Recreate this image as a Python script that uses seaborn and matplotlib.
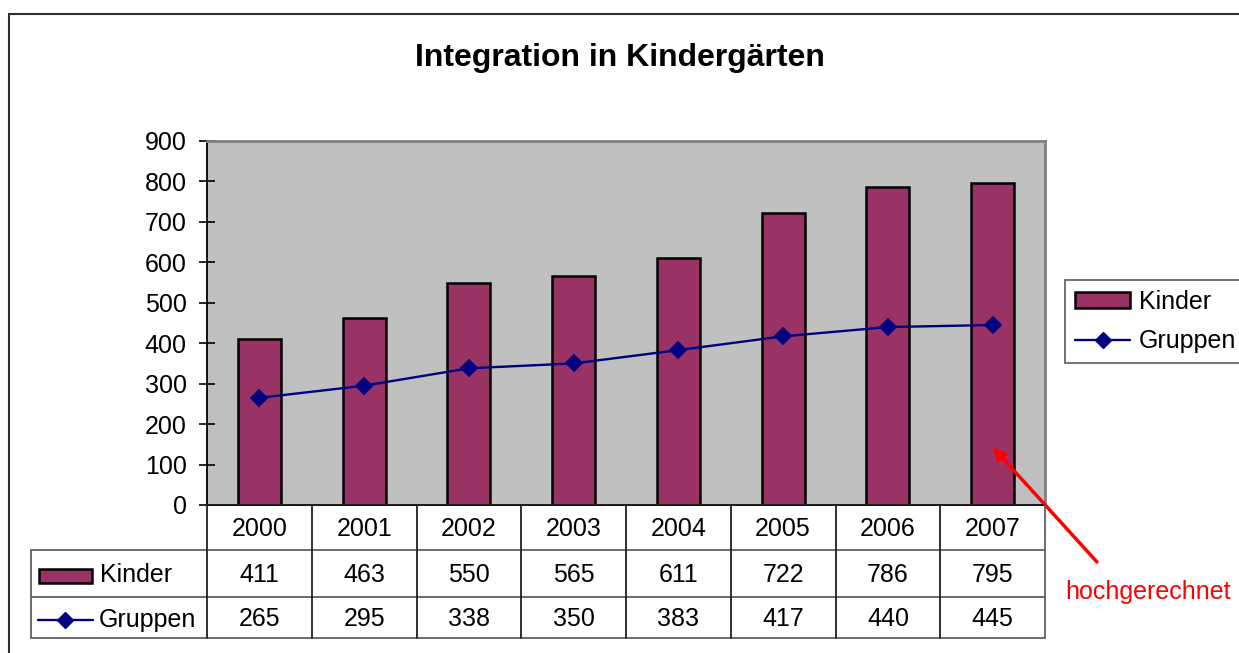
import matplotlib
matplotlib.use("Agg")
import matplotlib.pyplot as plt
from matplotlib.patches import Rectangle
from matplotlib.lines import Line2D
import seaborn as sns

years = ["2000", "2001", "2002", "2003", "2004", "2005", "2006", "2007"]
kinder = [411, 463, 550, 565, 611, 722, 786, 795]
gruppen = [265, 295, 338, 350, 383, 417, 440, 445]
yticks = [0, 100, 200, 300, 400, 500, 600, 700, 800, 900]

sns.set_style("white")
plt.rcParams['font.family'] = ['Liberation Sans', 'DejaVu Sans']
plt.rcParams['text.color'] = 'black'
plt.rcParams['ytick.labelcolor'] = 'black'
plt.rcParams['xtick.labelcolor'] = 'black'

W, H = 1239, 653
BAR = "#993366"
NAVY = "#000080"
FS = 18

fig = plt.figure(figsize=(W / 100, H / 100), dpi=100)

def fx(px):
    return px / W

def fy(py):
    return 1 - py / H

# outer chart frame (runs off the right and bottom edges)
fig.add_artist(Rectangle((fx(9), fy(700)), fx(1400), (700 - 14) / H, transform=fig.transFigure,
                         fill=False, edgecolor="#303030", lw=1.5))

fig.text(0.5, fy(58), "Integration in Kindergärten", ha="center", va="center",
         fontsize=23, fontweight="bold")

# plot area
L, R, T, B = 207, 1045, 141, 505
ax = fig.add_axes([fx(L), fy(B), fx(R - L), (B - T) / H])
ax.set_facecolor("#C0C0C0")
sns.barplot(x=years, y=kinder, color=BAR, saturation=1, edgecolor="black", linewidth=1.8,
            width=0.41, ax=ax, zorder=2)
sns.pointplot(x=years, y=gruppen, color=NAVY, markers="D", linestyles="-", errorbar=None,
              ax=ax, markersize=8, linewidth=1.7, zorder=3)
if ax.get_legend() is not None:
    ax.get_legend().remove()
ax.set_xlim(-0.5, len(years) - 0.5)
ax.set_ylim(0, 900)
ax.set_yticks(yticks)
ax.set_xticks([])
ax.set_xlabel("")
ax.set_ylabel("")
ax.tick_params(axis="y", direction="inout", length=12, width=1.2, pad=8.5, labelsize=FS,
               left=True, color="black", labelcolor="black")
for s in ["top", "right"]:
    ax.spines[s].set_color("#808080")
    ax.spines[s].set_linewidth(2)
for s in ["left", "bottom"]:
    ax.spines[s].set_color("black")
    ax.spines[s].set_linewidth(1.3)

# data table under the plot
catw = (R - L) / len(years)
TL = 31
rows_px = [0, 45, 92, 133]
tab = fig.add_axes([fx(TL), fy(B + rows_px[-1]), fx(R - TL), rows_px[-1] / H])
x0 = -0.5 - (L - TL) / catw
tab.set_xlim(x0, len(years) - 0.5)
tab.set_ylim(rows_px[-1], 0)
tab.axis("off")
hcol = "#606060"
vcol = "#202020"
tab.plot([-0.5, len(years) - 0.5], [rows_px[0]] * 2, color=vcol, lw=1.3, clip_on=False)
for r in rows_px[1:]:
    tab.plot([x0, len(years) - 0.5], [r, r], color=hcol, lw=1.3, clip_on=False)
tab.plot([x0, x0], [rows_px[1], rows_px[3]], color=hcol, lw=1.3, clip_on=False)
for i in range(len(years) + 1):
    tab.plot([i - 0.5, i - 0.5], [rows_px[0], rows_px[3]],
             color=vcol if i < len(years) else hcol, lw=1.3, clip_on=False)

hy = (rows_px[0] + rows_px[1]) / 2 + 2
ky = (rows_px[1] + rows_px[2]) / 2 + 2
gy = (rows_px[2] + rows_px[3]) / 2 + 2
for i, (yr, k, g) in enumerate(zip(years, kinder, gruppen)):
    tab.text(i, hy, yr, ha="center", va="center", fontsize=FS)
    tab.text(i, ky, str(k), ha="center", va="center", fontsize=FS)
    tab.text(i, gy, str(g), ha="center", va="center", fontsize=FS)

def tx(px):
    return x0 + (px - TL) / catw

tab.add_patch(Rectangle((tx(39), ky - 7), tx(92) - tx(39), 14, facecolor=BAR,
                        edgecolor="black", lw=1.8))
tab.text(tx(100), ky, "Kinder", ha="left", va="center", fontsize=FS)
tab.plot([tx(38), tx(93)], [gy, gy], color=NAVY, lw=1.7)
tab.plot([tx(65)], [gy], marker="D", color=NAVY, markersize=8)
tab.text(tx(99), gy, "Gruppen", ha="left", va="center", fontsize=FS)

# legend on the right
handles = [Rectangle((0, 0), 1, 1, facecolor=BAR, edgecolor="black", lw=1.8),
           Line2D([], [], color=NAVY, lw=1.7, marker="D", markersize=8)]
leg = fig.legend(handles, ["Kinder", "Gruppen"], loc="upper left",
                 bbox_to_anchor=(fx(1065), fy(280)), fontsize=FS, frameon=True,
                 fancybox=False, edgecolor="#303030", handlelength=2.2, handleheight=0.6,
                 handletextpad=0.35, borderpad=0.4, labelspacing=0.6, borderaxespad=0)
leg.get_frame().set_linewidth(1.2)

# annotation
ax.annotate("", xy=(7, 143), xycoords="data", xytext=(fx(1097), fy(562)),
            textcoords="figure fraction",
            arrowprops=dict(arrowstyle="-|>", color="red", lw=2.5, mutation_scale=18,
                            shrinkA=0, shrinkB=0), annotation_clip=False)
fig.text(fx(1148), fy(592), "hochgerechnet", ha="center", va="center", fontsize=FS,
         color="red")

fig.savefig("out.png", dpi=100)
